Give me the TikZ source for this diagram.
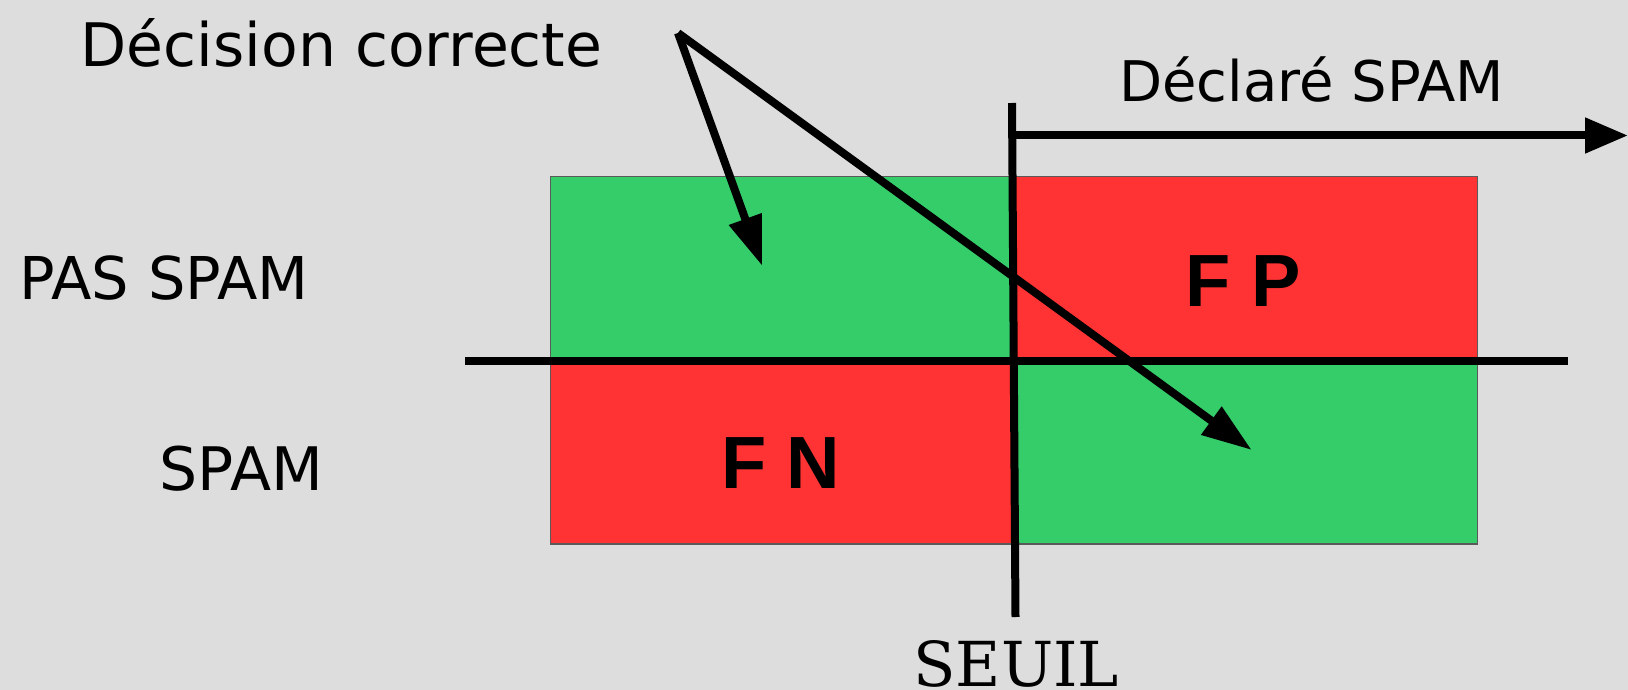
\documentclass[tikz,border=0pt]{standalone}
\usepackage{fontspec}
\newfontfamily\sansf{DejaVu Sans}
\newfontfamily\boldlab{Liberation Sans}
\newfontfamily\seuilf{DejaVu Serif}
\usetikzlibrary{arrows.meta}
\definecolor{bg}{RGB}{221,221,221}
\definecolor{okgreen}{RGB}{53,204,106}
\definecolor{badred}{RGB}{255,51,51}
\definecolor{rimgray}{RGB}{90,90,90}
\begin{document}
\begin{tikzpicture}[x=1pt,y=-1pt,
  lab/.style={anchor=base,inner sep=0pt,font=\sansf\fontsize{60}{72}\selectfont},
  big/.style={anchor=base,inner sep=0pt,font=\boldlab\bfseries\fontsize{74}{88}\selectfont},
  thick line/.style={line width=8pt},
  conn/.style={line width=8pt,-{Triangle[length=50pt,width=33pt]}},
  declarrow/.style={line width=8pt,-{Triangle[length=43pt,width=34pt]}},
]
\fill[bg] (0,0) rectangle (1628,690);
\useasboundingbox (0,0) rectangle (1628,690);
% quadrants
\fill[okgreen] (550.7,176.7) rectangle (1012,361);
\fill[badred] (1012,176.7) rectangle (1477.5,361);
\fill[badred] (550.7,361) rectangle (1012,544);
\fill[okgreen] (1012,361) rectangle (1477.5,544);
\draw[line width=1.5pt,rimgray] (550.7,176.7) rectangle (1477.5,544);
% coordinates
\coordinate (seuilTop) at (1012,103);
\coordinate (seuilBot) at (1015.5,617);
\coordinate (hL) at (465,361);
\coordinate (hR) at (1568,361);
\coordinate (declStart) at (1012,135.5);
\coordinate (declEnd) at (1628,135.5);
\coordinate (src) at (678,33);
\coordinate (tipA) at (762.3,266);
\coordinate (tipB) at (1251.7,450);
% lines
\draw[thick line] (seuilTop) -- (seuilBot);
\draw[thick line] (hL) -- (hR);
\draw[declarrow] (declStart) -- (declEnd);
\draw[conn] (src) -- (tipA);
\draw[conn] (src) -- (tipB);
% texts
\node[lab] (dec) at (341.5,66.8) {Décision correcte};
\node[lab,font=\sansf\fontsize{59}{70}\selectfont] (pas) at (164.2,299) {PAS SPAM};
\node[lab] (spam) at (241.3,490.7) {SPAM};
\node[lab,font=\sansf\fontsize{56}{66}\selectfont] (decl) at (1311.7,101.7) {Déclaré SPAM};
\node[big] (fp) at (1243.3,306.7) {F P};
\node[big] (fn) at (780.8,488.3) {F N};
\node[anchor=base,inner sep=0pt,font=\seuilf\fontsize{62}{72}\selectfont] (seuil) at (1016.3,686.5) {SEUIL};
\end{tikzpicture}
\end{document}
